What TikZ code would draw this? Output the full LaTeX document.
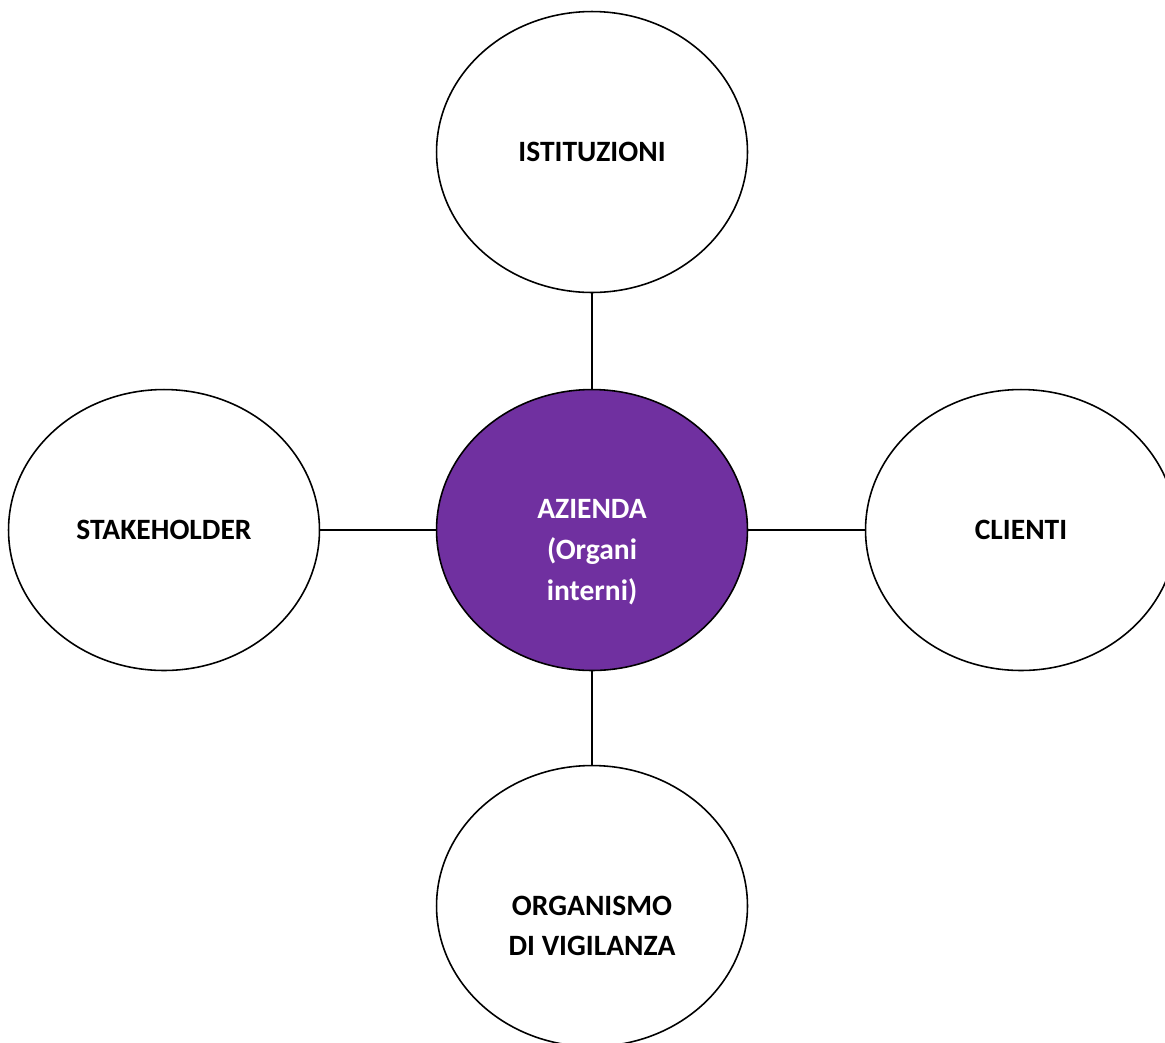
\documentclass[tikz,border=0pt]{standalone}
\usepackage{fontspec}
\setmainfont{Carlito}
\usetikzlibrary{shapes,positioning}
\definecolor{viola}{HTML}{7030A0}

\begin{document}
\begin{tikzpicture}[x=0.02cm, y=-0.02cm,
    bubble/.style={ellipse, draw, line width=0.9pt, minimum width=6.22cm, minimum height=5.62cm, inner sep=0pt},
    lbl/.style={font=\bfseries\fontsize{16.8}{23.2}\selectfont, align=center}]
    \clip (0,0) rectangle (1165,1042);

    % Centre
    \node[bubble, fill=viola] (azienda) at (592,530) {};
    \node[lbl, text=white] (aziendatxt) at (592,552) {AZIENDA\\(Organi\\interni)};

    % Outer bubbles
    \node[bubble, lbl] (istituzioni) at (592,152) {ISTITUZIONI};
    \node[bubble, lbl] (stakeholder) at (164,530) {STAKEHOLDER};
    \node[bubble, lbl] (clienti) at (1021,530) {CLIENTI};
    \node[bubble] (organismo) at (592,906) {};
    \node[lbl] (organismotxt) at (592,926) {ORGANISMO\\DI VIGILANZA};

    % Links
    \draw[line width=0.9pt] (istituzioni) -- (azienda);
    \draw[line width=0.9pt] (stakeholder) -- (azienda);
    \draw[line width=0.9pt] (azienda) -- (clienti);
    \draw[line width=0.9pt] (azienda) -- (organismo);
\end{tikzpicture}
\end{document}
